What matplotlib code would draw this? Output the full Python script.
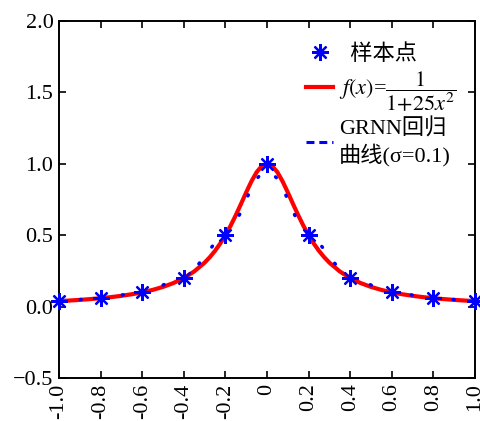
import matplotlib
matplotlib.use("Agg")
import matplotlib.pyplot as plt
from matplotlib.lines import Line2D

# Sample points
sample_x = [-1.0, -0.8, -0.6, -0.4, -0.2, 0.0, 0.2, 0.4, 0.6, 0.8, 1.0]
sample_y = [0.0385, 0.0588, 0.1, 0.2, 0.5, 1.0, 0.5, 0.2, 0.1, 0.0588, 0.0385]

# f(x) = 1/(1+25x^2) curve
f_x = [-1.0, -0.95, -0.9, -0.85, -0.8, -0.75, -0.7, -0.65, -0.6, -0.55, -0.5, -0.45,
       -0.4, -0.35, -0.3, -0.275, -0.25, -0.225, -0.2, -0.175, -0.15, -0.125, -0.1,
       -0.075, -0.05, -0.025, 0.0, 0.025, 0.05, 0.075, 0.1, 0.125, 0.15, 0.175, 0.2,
       0.225, 0.25, 0.275, 0.3, 0.35, 0.4, 0.45, 0.5, 0.55, 0.6, 0.65, 0.7, 0.75,
       0.8, 0.85, 0.9, 0.95, 1.0]
f_y = [0.0385, 0.0424, 0.0471, 0.0525, 0.0588, 0.0664, 0.0755, 0.0865, 0.1, 0.1168,
       0.1379, 0.1649, 0.2, 0.2462, 0.3077, 0.3459, 0.3902, 0.4414, 0.5, 0.5664,
       0.64, 0.7191, 0.8, 0.8767, 0.9412, 0.9846, 1.0, 0.9846, 0.9412, 0.8767, 0.8,
       0.7191, 0.64, 0.5664, 0.5, 0.4414, 0.3902, 0.3459, 0.3077, 0.2462, 0.2,
       0.1649, 0.1379, 0.1168, 0.1, 0.0865, 0.0755, 0.0664, 0.0588, 0.0525, 0.0471,
       0.0424, 0.0385]

# GRNN regression curve (sigma = 0.1)
g_x = [-1.0, -0.95, -0.9, -0.85, -0.8, -0.75, -0.7, -0.65, -0.6, -0.55, -0.5, -0.45,
       -0.4, -0.35, -0.3, -0.25, -0.2, -0.175, -0.15, -0.125, -0.1, -0.075, -0.05,
       -0.025, 0.0, 0.025, 0.05, 0.075, 0.1, 0.125, 0.15, 0.175, 0.2, 0.25, 0.3,
       0.35, 0.4, 0.45, 0.5, 0.55, 0.6, 0.65, 0.7, 0.75, 0.8, 0.85, 0.9, 0.95, 1.0]
g_y = [0.040, 0.043, 0.049, 0.055, 0.060, 0.067, 0.080, 0.093, 0.103, 0.119, 0.151,
       0.184, 0.211, 0.258, 0.351, 0.447, 0.511, 0.546, 0.595, 0.664, 0.749, 0.831,
       0.895, 0.932, 0.944, 0.932, 0.895, 0.831, 0.749, 0.664, 0.595, 0.546, 0.511,
       0.447, 0.351, 0.258, 0.211, 0.184, 0.151, 0.119, 0.103, 0.093, 0.080, 0.067,
       0.060, 0.055, 0.049, 0.043, 0.040]

x_ticks = [-1.0, -0.8, -0.6, -0.4, -0.2, 0.0, 0.2, 0.4, 0.6, 0.8, 1.0]
x_labels = ["-1.0", "-0.8", "-0.6", "-0.4", "-0.2", "0", "0.2", "0.4", "0.6", "0.8", "1.0"]
y_ticks = [-0.5, 0.0, 0.5, 1.0, 1.5, 2.0]
y_labels = ["\u22120.5", "0.0", "0.5", "1.0", "1.5", "2.0"]

labels = ["  样本点", r"$f(x)$=$\dfrac{1}{1{+}25x^2}$", "GRNN回归\n曲线(σ=0.1)"]

plt.rcParams['font.family'] = ['Liberation Serif', 'Noto Sans CJK SC']
plt.rcParams['mathtext.fontset'] = 'stix'

fig = plt.figure(figsize=(4.81, 4.21), dpi=100)
ax = fig.add_axes([59 / 481, 1 - 378 / 421, 416 / 481, 357 / 421])

ax.plot(f_x, f_y, color='red', lw=3.0, solid_capstyle='round', zorder=2)
ax.plot(g_x, g_y, color='blue', lw=2.5, linestyle=(0, (0.3, 5.8)),
        dash_capstyle='round', zorder=3)
ax.plot(sample_x, sample_y, linestyle='none', marker=(8, 2, 0), markersize=12,
        markeredgewidth=1.6, color='blue', clip_on=False, zorder=4)

ax.set_xlim(-1.0, 1.0)
ax.set_ylim(-0.5, 2.0)
ax.set_xticks(x_ticks)
ax.set_xticklabels(x_labels, rotation=90)
ax.set_yticks(y_ticks)
ax.set_yticklabels(y_labels)
ax.tick_params(direction='in', top=True, right=True, length=5, width=1.2,
               labelsize=16, pad=4)
for sp in ax.spines.values():
    sp.set_linewidth(1.4)

h1 = Line2D([], [], linestyle='none', marker=(8, 2, 0), markersize=12,
            markeredgewidth=1.6, color='blue')
h2 = Line2D([], [], color='red', lw=3.0)
h3 = Line2D([], [], color='blue', lw=2.2, linestyle=(0, (2.6, 1.6)))
leg = ax.legend([h1, h2, h3], labels, loc='upper right',
                bbox_to_anchor=(0.987, 0.973), frameon=False, fontsize=16,
                handlelength=1.2, handletextpad=0.27, labelspacing=0.22,
                borderaxespad=0.2)

fig.savefig('out.png', dpi=100)
